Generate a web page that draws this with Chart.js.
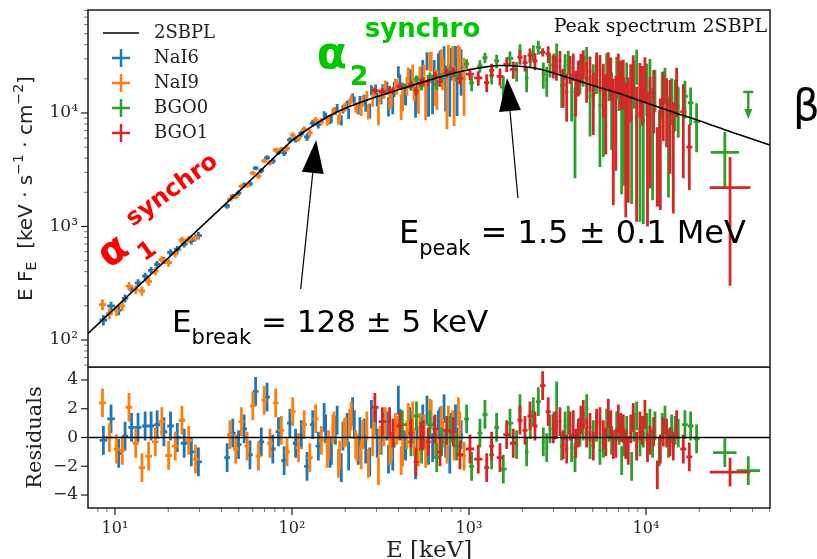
<!DOCTYPE html>
<html>
<head>
<meta charset="utf-8">
<script src="https://cdn.jsdelivr.net/npm/chart.js@4.4.1/dist/chart.umd.min.js"></script>
<style>
  html, body { margin: 0; padding: 0; background: #fff; }
  #wrap { position: relative; width: 817px; height: 559px; overflow: hidden; }
  #wrap > div { position: absolute; left: 0; width: 817px; }
  #top { top: 0; height: 372px; }
  #bot { top: 367px; height: 192px; }
</style>
</head>
<body>
<div id="wrap">
  <div id="top"><canvas id="specChart"></canvas></div>
  <div id="bot"><canvas id="resChart"></canvas></div>
</div>
<script>
// axis ranges
const eMin = 7.04, eMax = 50200;
const fluxMin = 57.8, fluxMax = 80800;
const resMin = -4.9, resMax = 4.9;

// tick labels
const xTickValues = [10, 100, 1000, 10000];
const xTickLabels = ['10¹', '10²', '10³', '10⁴'];
const fluxTickValues = [100, 1000, 10000];
const fluxTickLabels = ['10²', '10³', '10⁴'];
const resTickValues = [-4, -2, 0, 2, 4];
const resTickLabels = ['−4', '−2', '0', '2', '4'];

// 2SBPL model curve (E [keV], E F_E)
const modelE = [7, 10, 15, 20, 30, 50, 80, 100, 128, 160, 200, 300, 400, 500, 700, 1000, 1250, 1500, 2000, 2500, 3000, 5000, 7000, 10000, 15000, 20000, 30000, 50000, 52000];
const modelF = [113, 191, 346, 528, 963, 2030, 4100, 5700, 7500, 9300, 11000, 13900, 16000, 17900, 21000, 24000, 25500, 26200, 25700, 24400, 22500, 17500, 14900, 12300, 9900, 8550, 6840, 5220, 5110];

// NaI6
const nai6E = [8.6, 9.5, 10.5, 11.4, 12.4, 13.5, 14.8, 16.0, 17.3, 18.9, 20.6, 22.5, 24.6, 27.0, 29.6,
  43, 46.3, 49.9, 53.7, 57.9, 62.3, 67.1, 72.3, 77.9, 83.9, 90.3, 97.3, 104.8, 112.9, 121.6, 131, 141,
  152, 155, 164, 167, 176, 180, 190, 194, 205, 209, 220, 225, 237, 242, 256, 261, 275, 281, 297, 303, 319, 326, 344, 351, 371, 378, 399, 407, 430, 439, 463, 472, 499, 509, 537, 548, 579, 591, 623, 636, 671, 685, 723, 738, 779, 795, 839, 857, 903];
const nai6F = [150, 200, 183, 233, 282, 318, 365, 410, 464, 502, 590, 630, 700, 750, 830,
  1515, 1838, 1970, 2323, 2372, 3265, 3101, 4047, 3771, 4501, 4454, 5798, 5861, 6603, 6145, 8139, 7884,
  9731, 9396, 8669, 8934, 10380, 11145, 8661, 10816, 11868, 9903, 13700, 12819, 10984, 12798, 13098, 11666, 10515, 15965, 15987, 13230, 13919, 15903, 16643, 11580, 12213, 16322, 23058, 18976, 15023, 14849, 21008, 20230, 13000, 17228, 20309, 24665, 29035, 14574, 15697, 23129, 26679, 28379, 31000, 18224, 18000, 28301, 29000, 19575, 25296];
const nai6Err = [16, 17, 18, 19, 22, 24, 27, 30, 33, 36, 40, 44, 48, 55, 62,
  81, 91, 101, 113, 126, 141, 164, 187, 217, 247, 285, 328, 373, 417, 467, 522, 576,
  636, 657, 719, 739, 798, 832, 909, 943, 1026, 1060, 1161, 1187, 1274, 1313, 1395, 1436, 1585, 1630, 1798, 1844, 2005, 2055, 2229, 2280, 2467, 2521, 2718, 2826, 3154, 3184, 3444, 3563, 3931, 4059, 4447, 4582, 5181, 5330, 5961, 6118, 6788, 6945, 7643, 7914, 8732, 9016, 9878, 10184, 11078];
const nai6Res = [-0.2, 1.3, -1.1, 0.1, 0.7, 0.7, 0.8, 0.8, 0.9, 0.4, 0.8, 0.0, -0.4, -1.0, -1.7,
  -1.4, 0.3, -0.5, 0.6, -1.2, 3.2, -0.3, 2.8, -0.8, 0.4, -1.6, 1.0, -0.4, 0.2, -2.0, 0.9, -0.6,
  1.4, 0.6, -1.1, -0.9, 0.5, 1.2, -2.1, 0.1, 0.7, -1.3, 1.8, 0.9, -0.9, 0.4, 0.3, -0.8, -1.7, 1.6, 1.2, -0.4, -0.2, 0.7, 0.8, -1.5, -1.3, 0.3, 2.6, 1.0, -0.5, -0.6, 1.1, 0.8, -1.9, -0.2, 0.4, 1.3, 1.9, -0.9, -0.7, 0.5, 0.9, 1.1, 2.0, -0.4, -1.5, 0.7, 1.3, -0.3, 0.2];

// NaI9
const nai9E = [8.5, 9.3, 10.2, 11.0, 12.0, 13.1, 14.2, 15.5, 16.9, 18.4, 20.1, 21.9, 23.9, 26.1, 28.5,
  44.6, 48.1, 51.8, 55.8, 60.1, 64.7, 69.7, 75.1, 80.9, 87.1, 93.8, 101, 108.8, 117.2, 126.2, 136, 146.5,
  158, 161, 170, 173, 183, 186, 197, 201, 212, 216, 229, 233, 246, 251, 265, 270, 286, 291, 308, 314, 331, 337, 357, 364, 384, 391, 414, 422, 446, 454, 481, 490, 518, 528, 558, 569, 601, 612, 647, 659, 697, 710, 751, 765, 809, 824, 871, 887, 938];
const nai9F = [205, 171, 182, 200, 298, 278, 270, 328, 405, 510, 480, 575, 760, 770, 800,
  1735, 1836, 2252, 2313, 2958, 2781, 3780, 3645, 4720, 4783, 4879, 6370, 5984, 7192, 6679, 8663, 8409,
  8405, 8951, 10175, 10491, 8736, 9348, 11150, 11400, 12472, 13202, 11277, 11136, 10763, 12816, 14130, 10307, 13013, 15231, 9701, 13812, 15436, 17131, 13028, 13828, 17513, 17186, 11598, 13399, 17570, 21837, 23065, 16550, 14014, 21389, 21746, 13587, 28826, 28841, 17713, 17128, 29427, 23271, 15157, 31566, 30110, 16807, 30000, 28000, 20000];
const nai9Err = [22, 19, 19, 20, 26, 25, 25, 28, 33, 38, 38, 42, 50, 55, 62,
  86, 96, 107, 119, 133, 152, 173, 201, 229, 265, 306, 350, 394, 442, 494, 549, 606,
  677, 698, 758, 789, 852, 885, 967, 1001, 1092, 1128, 1187, 1236, 1364, 1404, 1488, 1543, 1690, 1748, 1899, 1961, 2116, 2180, 2347, 2414, 2591, 2693, 2932, 3041, 3297, 3412, 3683, 3806, 4186, 4315, 4809, 4948, 5468, 5713, 6268, 6525, 7106, 7371, 7966, 8238, 8856, 9139, 9559, 10080, 10530];
const nai9Res = [2.4, 0.0, -0.8, -0.9, 2.1, -0.4, -2.1, -1.3, -0.3, 1.1, -1.25, -0.6, 1.2, -0.2, -1.5,
  0.2, -0.8, 1.1, -0.6, 2.2, -1.3, 2.6, -0.4, 2.4, 0.5, -1.0, 1.8, -0.7, 0.9, -1.4, 1.3, -0.2,
  -1.1, -0.5, 0.6, 0.8, -1.8, -1.2, 0.3, 0.4, 1.0, 1.5, -0.5, -0.7, -1.2, 0.2, 0.8, -1.8, -0.3, 0.9, -2.3, -0.2, 0.4, 1.1, -0.9, -0.6, 0.7, 0.5, -1.6, -1.0, 0.2, 1.4, 1.5, -0.3, -1.0, 0.7, 0.6, -1.1, 1.7, 1.6, -0.4, -0.5, 1.2, 0.3, -0.8, 1.2, 0.9, -0.6, 1.8, 0.8, -1.3];

// BGO0
const bgo0E = [420, 470, 505, 540, 602, 657, 701, 781, 852, 970, 1035, 1153, 1231, 1343, 1433, 1563, 1705, 1859, 1941, 2117, 2220, 2310, 2465, 2630, 2750, 2868, 3020, 3129, 3338, 3490, 3640, 3800, 3971, 4236, 4420, 4624, 4830, 5040, 5250, 5495, 5750, 5998, 6180, 6397, 6832, 7050, 7290, 7530, 7782, 8298, 8550, 8860, 9250, 9660, 10100, 10530, 10900, 11240, 11890, 12350, 12800, 13400, 13960, 14600, 15220, 16600, 17880, 19320, 27900];
const bgo0F = [17440, 16950, 20010, 17380, 21030, 17790, 20430, 22900, 21230, 27110, 18410, 25930, 30680, 21430, 28730, 16930, 30350, 23480, 35520, 20300, 29800, 34240, 37930, 22110, 19700, 26530, 27500, 36090, 17490, 26400, 28560, 15300, 9720, 21930, 24500, 30410, 13900, 18990, 22900, 11700, 12800, 24830, 21600, 13740, 22290, 19400, 10970, 11400, 18640, 10820, 20100, 26860, 9900, 8500, 18300, 20970, 9200, 17110, 6000, 15900, 18560, 7900, 14010, 13300, 11460, 14050, 12300, 8350, 4500];
const bgo0Err = [1149, 1300, 1349, 1486, 1661, 1832, 1890, 2077, 2259, 2609, 2906, 3245, 3302, 3606, 3900, 4179, 4410, 4644, 4891, 5074, 5100, 5219, 5383, 5719, 5800, 5967, 6000, 4847, 6399, 6600, 6752, 6900, 7056, 7398, 7500, 7640, 7700, 7839, 8200, 8355, 8700, 8811, 8900, 9013, 9036, 9000, 9046, 9100, 9146, 9241, 9200, 9170, 8800, 7450, 8900, 8985, 7500, 6936, 4500, 7000, 6474, 6100, 6180, 6400, 5412, 5170, 4500, 3850, 2300];
const bgo0Res = [0.9, -0.3, 1.5, -0.8, 0.9, -1.4, -0.3, 0.5, -0.6, 1.3, -2.0, 0.3, 1.6, -1.2, 0.7, -2.2, 1.0, -0.5, 2.0, -1.0, 0.9, 1.8, 2.5, -0.3, -0.7, 0.6, 0.8, 2.9, -0.6, 0.8, 1.2, -0.7, -1.4, 0.4, 0.8, 2.0, -0.5, 0.2, 0.7, -0.9, -0.4, 1.0, 0.7, -0.2, 0.8, 0.5, -1.6, -0.3, 0.5, -2.0, 0.7, 1.5, -0.3, 0.3, 0.7, 1.0, -0.4, 0.8, -1.0, 0.7, 1.2, -0.4, 0.6, 0.5, 0.3, 0.9, 0.8, -0.1, -1.05];
// BGO0 upper limit channel
const bgo0LimitE = [37840];
const bgo0LimitF = [15300];
const bgo0LimitRes = [-2.3];

// BGO1
const bgo1E = [294, 324, 356, 372, 407, 470, 502, 535, 552, 589, 643, 686, 748, 815, 889, 1013, 1129, 1259, 1344, 1497, 1633, 1780, 1941, 2072, 2211, 2360, 2608, 2803,
  2993, 3120, 3266, 3410, 3563, 3720, 3883, 4010, 4146, 4290, 4426, 4620, 4827, 5040, 5263, 5500, 5740, 5930, 6124, 6330, 6536, 6760, 6977, 7210, 7443, 7690, 7943, 8200, 8475, 8850, 9245, 9550, 9863, 10200, 10540, 11050, 11590, 12050, 12530, 13080, 13670, 14270, 14900, 16250, 17570, 29850];
const bgo1F = [15760, 15540, 16260, 15760, 17040, 17730, 15660, 18660, 19070, 18860, 21270, 18930, 22540, 23120, 20200, 21970, 20360, 18570, 23760, 21050, 26840, 24220, 30990, 27780, 32300, 28700, 34250, 33190,
  26190, 25500, 28700, 17800, 15210, 24900, 26230, 16400, 21420, 25600, 27930, 20200, 23420, 14500, 25610, 23800, 18160, 13100, 25080, 21900, 10770, 12200, 24170, 19800, 20060, 9800, 11090, 17600, 22850, 9100, 18370, 16800, 21680, 8200, 11500, 15200, 4500, 7400, 14410, 12600, 11240, 6900, 17110, 10270, 5000, 2200];
const bgo1Err = [962, 1010, 1057, 1081, 1130, 1300, 1346, 1481, 1502, 1645, 1816, 1872, 2044, 2223, 2296, 2650, 2980, 3322, 3350, 3665, 3909, 4141, 4376, 4588, 4777, 4948, 2870, 5563,
  6086, 6300, 6474, 6700, 6818, 6900, 7132, 7100, 7480, 7500, 7799, 7900, 8015, 8100, 8535, 8600, 8998, 8800, 9205, 9000, 9234, 9100, 9250, 9200, 9380, 8600, 9472, 9300, 9408, 8000, 9238, 9100, 9293, 7200, 9337, 8600, 3000, 6000, 8736, 7600, 8328, 5600, 7960, 7608, 2900, 1900];
const bgo1Res = [2.1, 1.1, 1.1, 0.3, 0.8, 0.3, -1.7, 0.1, 0.2, -0.3, 0.6, -1.0, 0.5, 0.4, -1.2, -0.8, -1.5, -2.1, -0.6, -1.4, 0.2, -0.4, 1.2, 0.5, 1.5, 0.8, 3.6, 1.8,
  0.6, 0.9, 1.1, -0.5, -0.8, 0.8, 0.9, -0.4, 0.3, 1.2, 1.6, 0.3, 0.7, -0.6, 1.0, 1.1, 0.2, -0.3, 1.7, 0.9, -0.5, -0.4, 1.3, 0.7, 0.6, -0.5, -0.9, 0.6, 1.4, -0.6, 0.8, 0.5, 1.6, -0.7, -0.2, 0.4, -2.6, -0.8, 0.4, 0.3, -0.3, -0.6, 0.9, -0.8, -1.35, -2.4];

Chart.defaults.font.family = 'DejaVu Serif';
Chart.defaults.color = '#262626';

const detectors = [
  { label: 'NaI6', color: '#1f77b4', E: nai6E, F: nai6F, err: nai6Err, res: nai6Res },
  { label: 'NaI9', color: '#ff7f0e', E: nai9E, F: nai9F, err: nai9Err, res: nai9Res },
  { label: 'BGO0', color: '#2ca02c', E: bgo0E, F: bgo0F, err: bgo0Err, res: bgo0Res },
  { label: 'BGO1', color: '#d62728', E: bgo1E, F: bgo1F, err: bgo1Err, res: bgo1Res }
];

// energy bin extent from the spacing to the neighbouring channels (symmetric in log)
function binEdges(E) {
  return E.map((e, i) => {
    const prev = i > 0 ? Math.log10(e / E[i - 1]) / 2 : Infinity;
    const next = i < E.length - 1 ? Math.log10(E[i + 1] / e) / 2 : Infinity;
    const h = Math.min(prev, next);
    return [e / Math.pow(10, h), e * Math.pow(10, h)];
  });
}

function logTicks(min, max) {
  const out = [];
  for (let d = Math.pow(10, Math.floor(Math.log10(min))); d <= max; d *= 10) {
    for (let m = 1; m <= 9; m++) {
      const v = m * d;
      if (v >= min && v <= max) out.push({ value: v, major: m === 1 });
    }
  }
  return out;
}

function tickLabel(v, values, labels) {
  const i = values.findIndex(t => Math.abs(t - v) < 1e-6 * Math.max(1, Math.abs(t)));
  return i >= 0 ? labels[i] : '';
}

const toPoints = (E, V) => E.map((e, i) => ({ x: e, y: V[i] }));

// error bars for every dataset carrying errY, upper limit arrows
const errorBarPlugin = {
  id: 'errorBars',
  beforeDatasetsDraw(chart) {
    const { ctx, chartArea: a } = chart;
    const xs = chart.scales.x, ys = chart.scales.y;
    const floor = ys.type === 'logarithmic' ? ys.min * 0.5 : -Infinity;
    ctx.save();
    ctx.beginPath();
    ctx.rect(a.left, a.top, a.right - a.left, a.bottom - a.top);
    ctx.clip();
    chart.data.datasets.forEach(ds => {
      if (!ds.errY && !ds.upperLimit) return;
      ctx.strokeStyle = ds.borderColor;
      ctx.fillStyle = ds.borderColor;
      ctx.lineWidth = 2.8;
      ds.data.forEach((p, i) => {
        const x = xs.getPixelForValue(p.x);
        const y = ys.getPixelForValue(p.y);
        if (ds.upperLimit) {
          ctx.lineWidth = 2.4;
          ctx.beginPath();
          ctx.moveTo(x - 5, y); ctx.lineTo(x + 5, y);
          ctx.moveTo(x, y); ctx.lineTo(x, y + 19);
          ctx.stroke();
          ctx.beginPath();
          ctx.moveTo(x - 4, y + 17); ctx.lineTo(x + 4, y + 17); ctx.lineTo(x, y + 27);
          ctx.closePath(); ctx.fill();
          return;
        }
        const yHi = ys.getPixelForValue(p.y + ds.errY[i]);
        const yLo = ys.getPixelForValue(Math.max(p.y - ds.errY[i], floor));
        const [eLo, eHi] = ds.xEdges[i];
        ctx.beginPath();
        ctx.moveTo(x, yHi); ctx.lineTo(x, yLo);
        ctx.moveTo(xs.getPixelForValue(eLo), y); ctx.lineTo(xs.getPixelForValue(eHi), y);
        ctx.stroke();
      });
    });
    ctx.restore();
  }
};

// axes frame + tick marks (major/minor)
const framePlugin = {
  id: 'frame',
  afterDraw(chart) {
    const { ctx, chartArea: a } = chart;
    ctx.save();
    const ys = chart.scales.y;
    ys.ticks.forEach(t => {
      const y = ys.getPixelForValue(t.value);
      const len = t.major ? 7 : 4;
      ctx.strokeStyle = t.major ? '#222' : '#777';
      ctx.lineWidth = t.major ? 1.2 : 1;
      ctx.beginPath(); ctx.moveTo(a.left - len, y); ctx.lineTo(a.left, y); ctx.stroke();
    });
    const xs = chart.scales.x;
    if (xs.options.display !== false) {
      xs.ticks.forEach(t => {
        const x = xs.getPixelForValue(t.value);
        const len = t.major ? 7 : 4;
        ctx.strokeStyle = t.major ? '#222' : '#777';
        ctx.lineWidth = t.major ? 1.2 : 1;
        ctx.beginPath(); ctx.moveTo(x, a.bottom); ctx.lineTo(x, a.bottom + len); ctx.stroke();
      });
    }
    ctx.strokeStyle = '#1a1a1a';
    ctx.lineWidth = 1.5;
    ctx.strokeRect(a.left, a.top, a.right - a.left, a.bottom - a.top);
    ctx.restore();
  }
};

function richText(ctx, runs, x, y, align) {
  let total = 0;
  runs.forEach(r => { ctx.font = r[1]; total += ctx.measureText(r[0]).width; });
  let cx = align === 'center' ? x - total / 2 : x;
  ctx.textAlign = 'left';
  runs.forEach(r => {
    ctx.font = r[1];
    ctx.fillText(r[0], cx, y + (r[2] || 0));
    cx += ctx.measureText(r[0]).width;
  });
}

function arrow(ctx, x0, y0, x1, y1) {
  const ang = Math.atan2(y1 - y0, x1 - x0);
  const L = 33, W = 11;
  const bx = x1 - L * Math.cos(ang), by = y1 - L * Math.sin(ang);
  ctx.beginPath(); ctx.moveTo(x0, y0); ctx.lineTo(bx, by); ctx.stroke();
  ctx.beginPath();
  ctx.moveTo(x1, y1);
  ctx.lineTo(bx + W * Math.sin(ang), by - W * Math.cos(ang));
  ctx.lineTo(bx - W * Math.sin(ang), by + W * Math.cos(ang));
  ctx.closePath(); ctx.fill();
}

// legend, annotations and axis title of the spectrum panel
const specOverlay = {
  id: 'specOverlay',
  afterDraw(chart) {
    const { ctx, chartArea: a } = chart;
    const xs = chart.scales.x, ys = chart.scales.y;
    const P = (e, f) => [xs.getPixelForValue(e), ys.getPixelForValue(f)];
    ctx.save();

    // legend
    const lx = a.left + 15;
    ctx.font = '18px DejaVu Serif';
    ctx.textBaseline = 'middle';
    ctx.textAlign = 'left';
    const rows = [{ label: '2SBPL', color: '#000', line: true }].concat(detectors);
    rows.forEach((r, i) => {
      const y = a.top + 23 + i * 25;
      ctx.strokeStyle = r.color;
      if (r.line) {
        ctx.lineWidth = 1.6;
        ctx.beginPath(); ctx.moveTo(lx, y); ctx.lineTo(lx + 36, y); ctx.stroke();
      } else {
        ctx.lineWidth = 2.5;
        ctx.beginPath();
        ctx.moveTo(lx + 9, y); ctx.lineTo(lx + 27, y);
        ctx.moveTo(lx + 18, y - 9); ctx.lineTo(lx + 18, y + 9);
        ctx.stroke();
      }
      ctx.fillStyle = '#222';
      ctx.fillText(r.label, lx + 51, y);
    });

    // panel title
    ctx.font = '19px DejaVu Serif';
    ctx.textAlign = 'right';
    ctx.textBaseline = 'alphabetic';
    ctx.fillStyle = '#111';
    ctx.fillText('Peak spectrum 2SBPL', a.right - 3, a.top + 22);

    // arrows to the break and peak energies
    ctx.strokeStyle = '#000'; ctx.fillStyle = '#000'; ctx.lineWidth = 1.2;
    const b0 = P(112, 281), b1 = P(137, 5780);
    arrow(ctx, b0[0], b0[1], b1[0], b1[1]);
    const p0 = P(1890, 1780), p1 = P(1640, 20300);
    arrow(ctx, p0[0], p0[1], p1[0], p1[1]);

    // fit parameters
    ctx.textBaseline = 'alphabetic';
    const tb = P(21.0, 117.6);
    richText(ctx, [['E', '31px DejaVu Sans'], ['break', '21px DejaVu Sans', 12], [' = 128 ± 5 keV', '31px DejaVu Sans']], tb[0], tb[1]);
    const tp = P(402, 715);
    richText(ctx, [['E', '32px DejaVu Sans'], ['peak', '21px DejaVu Sans', 12], [' = 1.5 ± 0.1 MeV', '32px DejaVu Sans']], tp[0], tp[1]);

    // alpha_1 synchro (rotated, red)
    const a1 = P(9.25, 422);
    ctx.save();
    ctx.translate(a1[0], a1[1]);
    ctx.rotate(-36 * Math.PI / 180);
    ctx.fillStyle = '#ff0000';
    ctx.textAlign = 'left';
    ctx.font = 'bold 40px DejaVu Sans';
    ctx.fillText('α', 0, 0);
    ctx.font = 'bold 24px DejaVu Sans';
    ctx.fillText('1', 33, 15);
    ctx.fillText('synchro', 44, -20);
    ctx.restore();

    // alpha_2 synchro (green)
    const a2 = P(138, 24900);
    ctx.fillStyle = '#00c800';
    ctx.textAlign = 'left';
    ctx.font = 'bold 44px DejaVu Sans';
    ctx.fillText('α', a2[0], a2[1]);
    ctx.font = 'bold 27px DejaVu Sans';
    ctx.fillText('2', a2[0] + 33, a2[1] + 17);
    ctx.font = 'bold 26px DejaVu Sans';
    ctx.fillText('synchro', a2[0] + 48, a2[1] - 31);

    // beta label, cut at the right edge
    ctx.fillStyle = '#000';
    ctx.font = '42px DejaVu Sans';
    ctx.fillText('β', a.right + 23, a.top + 110);

    // y axis title
    ctx.save();
    ctx.translate(a.left - 61, (a.top + a.bottom) / 2);
    ctx.rotate(-Math.PI / 2);
    ctx.fillStyle = '#222';
    ctx.textBaseline = 'middle';
    richText(ctx, [
      ['E F', '20px DejaVu Sans'], ['E', '14px DejaVu Sans', 5], ['  [keV · s', '20px DejaVu Sans'],
      ['−1', '14px DejaVu Sans', -8], [' · cm', '20px DejaVu Sans'], ['−2', '14px DejaVu Sans', -8], [']', '20px DejaVu Sans']
    ], 0, 0, 'center');
    ctx.restore();

    ctx.restore();
  }
};

const resOverlay = {
  id: 'resOverlay',
  afterDraw(chart) {
    const { ctx, chartArea: a } = chart;
    ctx.save();
    ctx.fillStyle = '#222';
    ctx.font = '21px DejaVu Serif';
    ctx.textAlign = 'center';
    ctx.textBaseline = 'middle';
    ctx.save();
    ctx.translate(a.left - 52, (a.top + a.bottom) / 2);
    ctx.rotate(-Math.PI / 2);
    ctx.fillText('Residuals', 0, 0);
    ctx.restore();
    ctx.font = '23px DejaVu Serif';
    ctx.textBaseline = 'alphabetic';
    ctx.fillText('E [keV]', (a.left + a.right) / 2, a.bottom + 49);
    ctx.restore();
  }
};

const baseTicks = { autoSkip: false, maxRotation: 0, minRotation: 0, color: '#262626' };

// spectrum panel
const specDatasets = [{
  type: 'line', label: '2SBPL', data: toPoints(modelE, modelF),
  borderColor: '#000', borderWidth: 1.6, pointRadius: 0, showLine: true,
  cubicInterpolationMode: 'monotone', fill: false
}].concat(detectors.map(d => ({
  label: d.label, data: toPoints(d.E, d.F), errY: d.err, xEdges: binEdges(d.E),
  borderColor: d.color, backgroundColor: d.color, pointRadius: 0, showLine: false
}))).concat([{
  label: 'BGO0 limit', data: toPoints(bgo0LimitE, bgo0LimitF), upperLimit: true,
  borderColor: '#2ca02c', pointRadius: 0, showLine: false
}]);

new Chart(document.getElementById('specChart'), {
  type: 'scatter',
  data: { datasets: specDatasets },
  options: {
    responsive: true, maintainAspectRatio: false, animation: false,
    layout: { autoPadding: false, padding: { top: 10, right: 47, bottom: 5, left: 0 } },
    plugins: { legend: { display: false }, tooltip: { enabled: false } },
    scales: {
      x: { type: 'logarithmic', min: eMin, max: eMax, display: false },
      y: {
        type: 'logarithmic', min: fluxMin, max: fluxMax, bounds: 'data',
        afterBuildTicks: s => { s.ticks = logTicks(fluxMin, fluxMax); },
        afterFit: s => { s.width = 88; s.paddingTop = 0; s.paddingBottom = 0; },
        grid: { display: false, drawTicks: false }, border: { display: false },
        ticks: Object.assign({}, baseTicks, {
          padding: 10, font: { size: 17 },
          callback: v => tickLabel(v, fluxTickValues, fluxTickLabels)
        })
      }
    }
  },
  plugins: [errorBarPlugin, framePlugin, specOverlay]
});

// residual panel
const resDatasets = [{
  type: 'line', label: 'zero', data: [{ x: eMin, y: 0 }, { x: eMax, y: 0 }],
  borderColor: '#000', borderWidth: 1.5, pointRadius: 0, showLine: true, fill: false
}].concat(detectors.map(d => {
  const E = d.label === 'BGO0' ? d.E.concat(bgo0LimitE) : d.E;
  const R = d.label === 'BGO0' ? d.res.concat(bgo0LimitRes) : d.res;
  return {
    label: d.label, data: toPoints(E, R), errY: R.map(() => 1), xEdges: binEdges(E),
    borderColor: d.color, backgroundColor: d.color, pointRadius: 0, showLine: false
  };
}));

new Chart(document.getElementById('resChart'), {
  type: 'scatter',
  data: { datasets: resDatasets },
  options: {
    responsive: true, maintainAspectRatio: false, animation: false,
    layout: { autoPadding: false, padding: { top: 0, right: 47, bottom: 0, left: 0 } },
    plugins: { legend: { display: false }, tooltip: { enabled: false } },
    scales: {
      x: {
        type: 'logarithmic', min: eMin, max: eMax, bounds: 'data',
        afterBuildTicks: s => { s.ticks = logTicks(eMin, eMax); },
        afterFit: s => { s.height = 51; s.paddingLeft = 0; s.paddingRight = 0; },
        grid: { display: false, drawTicks: false }, border: { display: false },
        ticks: Object.assign({}, baseTicks, {
          padding: 11, font: { size: 16 },
          callback: v => tickLabel(v, xTickValues, xTickLabels)
        })
      },
      y: {
        type: 'linear', min: resMin, max: resMax, bounds: 'data',
        afterBuildTicks: s => { s.ticks = resTickValues.map(v => ({ value: v, major: true })); },
        afterFit: s => { s.width = 88; s.paddingTop = 0; s.paddingBottom = 0; },
        grid: { display: false, drawTicks: false }, border: { display: false },
        ticks: Object.assign({}, baseTicks, {
          padding: 10, font: { size: 17 },
          callback: v => tickLabel(v, resTickValues, resTickLabels)
        })
      }
    }
  },
  plugins: [errorBarPlugin, framePlugin, resOverlay]
});
</script>
</body>
</html>
